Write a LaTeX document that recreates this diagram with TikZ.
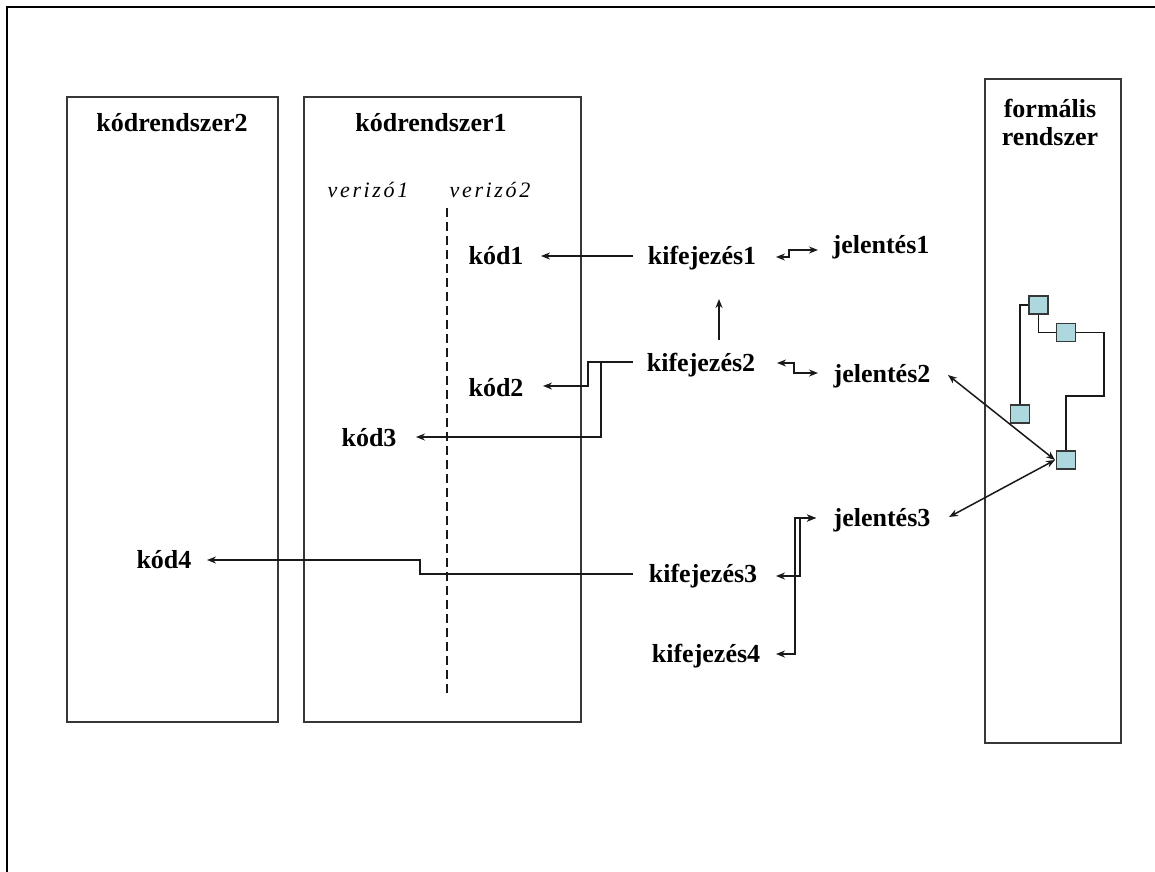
\documentclass[tikz,border=0pt]{standalone}
\usepackage{fontspec}
\setmainfont{Liberation Serif}
\newfontfamily\verfont[LetterSpace=12]{Liberation Serif}
\usetikzlibrary{arrows.meta}
\definecolor{sqblue}{RGB}{172,216,222}
\definecolor{boxgray}{RGB}{55,55,55}
\begin{document}
\begin{tikzpicture}[x=1pt,y=-1pt,
  lbl/.style={font={\fontsize{26}{28}\selectfont\bfseries}, inner sep=0pt},
  ver/.style={font={\verfont\itshape\fontsize{22}{24}\selectfont}, inner sep=0pt},
  sysbox/.style={draw=boxgray, line width=1.6pt, anchor=north west, inner sep=0pt},
  conn/.style={line width=1.5pt, draw=black!90},
  arr/.style={conn, -{Stealth[length=9pt,width=7pt]}},
  darr/.style={conn, {Stealth[length=9pt,width=7pt]}-{Stealth[length=9pt,width=7pt]}},
  sq/.style={draw=boxgray, line width=1.4pt, fill=sqblue, minimum width=19pt, minimum height=18pt, inner sep=0pt},
]
\useasboundingbox (0,0) rectangle (1155,871);
\fill[white] (0,0) rectangle (1155,871);
\draw[line width=2.5pt] (7,875) -- (7,7) -- (1160,7);

% system boxes
\node[sysbox, minimum width=211pt, minimum height=625pt] (cs2) at (66,96) {};
\node[sysbox, minimum width=277pt, minimum height=625pt] (cs1) at (303,96) {};
\node[sysbox, minimum width=136pt, minimum height=664pt] (fr) at (984,78) {};

% titles
\node[lbl] (cs2t) at (172,123) {kódrendszer2};
\node[lbl] (cs1t) at (431,123) {kódrendszer1};
\node[lbl, align=center] (frt) at (1050,122) {formális\\rendszer};
\node[ver] (v1) at (368,190) {verizó1};
\node[ver] (v2) at (490,190) {verizó2};

% version divider
\coordinate (dtop) at (447,208);
\coordinate (dbot) at (447,697);
\draw[conn, dash pattern=on 9pt off 5pt] (dtop) -- (dbot);

% labels
\node[lbl] (kod1) at (496,256) {kód1};
\node[lbl] (kod2) at (496,388) {kód2};
\node[lbl] (kod3) at (369,438) {kód3};
\node[lbl] (kod4) at (164,560) {kód4};
\node[lbl] (kif1) at (702,258) {kifejezés1};
\node[lbl] (kif2) at (701,365) {kifejezés2};
\node[lbl] (kif3) at (703,576) {kifejezés3};
\node[lbl] (kif4) at (706,656) {kifejezés4};
\node[lbl] (jel1) at (881,247) {jelentés1};
\node[lbl] (jel2) at (882,376) {jelentés2};
\node[lbl] (jel3) at (882,520) {jelentés3};

% formal system squares
\node[sq] (sqA) at (1038.5,305) {};
\node[sq] (sqB) at (1066,332.5) {};
\node[sq] (sqC) at (1020,414) {};
\node[sq] (sqD) at (1066,460) {};
\coordinate (fb) at (1104,396);
\draw[conn] (sqC.north) |- (sqA.west);
\draw[conn] (sqA.south) |- (sqB.west);
\draw[conn] (sqB.east) -| (fb) -| (sqD.north);

% connector end points
\coordinate (k1s) at (633,256);  \coordinate (k1t) at (541,256);
\coordinate (e1a) at (776,257);  \coordinate (e1b) at (818,250);
\coordinate (e2u) at (719,340);  \coordinate (e1d) at (719,299);
\coordinate (k2s) at (633,362);  \coordinate (k2t) at (543,386);
\coordinate (k3t) at (416,437);
\coordinate (e2a) at (777,363);  \coordinate (e2b) at (818,373);
\coordinate (k4s) at (633,574);  \coordinate (k4t) at (207,560);
\coordinate (e3a) at (776,576);  \coordinate (e4a) at (776,654);
\coordinate (j3t) at (816,518);
\coordinate (j2d) at (948,375);  \coordinate (j3d) at (949,517);
\coordinate (dd) at (1055,460);

% connectors
\draw[arr] (k1s) -- (k1t);
\draw[darr] (e1a) -| (789,250) -- (e1b);
\draw[arr] (e2u) -- (e1d);
\draw[arr] (k2s) -| (588,386) -- (k2t);
\draw[arr] (k2s) -| (601,437) -- (k3t);
\draw[darr] (e2a) -| (794,373) -- (e2b);
\draw[arr] (k4s) -| (420,560) -- (k4t);
\draw[darr] (e3a) -| (800,518) -- (j3t);
\draw[darr] (e4a) -| (795,518) -- (j3t);
\draw[darr] (j2d) -- (dd);
\draw[darr] (j3d) -- (dd);
\end{tikzpicture}
\end{document}
